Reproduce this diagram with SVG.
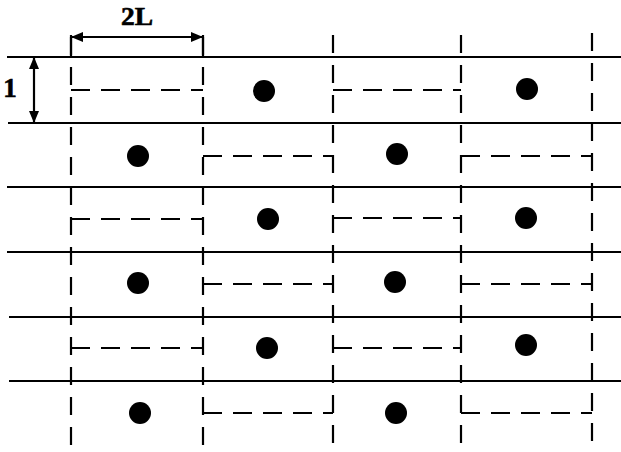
<svg xmlns="http://www.w3.org/2000/svg" width="621" height="452" viewBox="0 0 621 452">
<style>
.solid{stroke:#000;stroke-width:2.2;fill:none}
.vd{stroke:#000;stroke-width:2.2;fill:none;stroke-dasharray:18 12}
.hd{stroke:#000;stroke-width:2.2;fill:none;stroke-dasharray:19 11}
.dot{fill:#000}
.lbl{font-family:"Liberation Serif",serif;font-weight:bold;fill:#000;stroke:#000;stroke-width:0.6}
</style>
<defs>
<marker id="ah" viewBox="0 0 12 10" refX="11" refY="5" markerWidth="12" markerHeight="10" markerUnits="userSpaceOnUse" orient="auto-start-reverse">
<path d="M0,0 L12,5 L0,10 Z" fill="#000"/>
</marker>
</defs>
<rect width="621" height="452" fill="#fff"/>
<g id="grid">
<line class="solid" x1="7" y1="57" x2="621" y2="57"/>
<line class="solid" x1="8" y1="123" x2="621" y2="123"/>
<line class="solid" x1="7" y1="187" x2="621" y2="187"/>
<line class="solid" x1="7" y1="252" x2="621" y2="252"/>
<line class="solid" x1="9" y1="317" x2="621" y2="317"/>
<line class="solid" x1="9" y1="381" x2="621" y2="381"/>
<line class="vd" x1="71" y1="37" x2="71" y2="445"/>
<line class="vd" x1="203" y1="37" x2="203" y2="445"/>
<line class="vd" x1="333" y1="35" x2="333" y2="445"/>
<line class="vd" x1="461" y1="35" x2="461" y2="445"/>
<line class="vd" x1="592" y1="33" x2="592" y2="445"/>
</g>
<g id="dims">
<line class="solid" x1="71" y1="35" x2="71" y2="57"/>
<line class="solid" x1="203" y1="35" x2="203" y2="57"/>
<line class="solid" x1="72" y1="37" x2="202" y2="37" marker-start="url(#ah)" marker-end="url(#ah)"/>
<line class="solid" x1="34" y1="58" x2="34" y2="122" marker-start="url(#ah)" marker-end="url(#ah)"/>
<text class="lbl" x="137" y="25" font-size="25" text-anchor="middle" textLength="32" lengthAdjust="spacingAndGlyphs">2L</text>
<text class="lbl" x="10" y="97" font-size="27" text-anchor="middle">1</text>
</g>
<g id="dashes">
<line class="hd" x1="71" y1="90" x2="203" y2="90"/>
<line class="hd" x1="333" y1="90" x2="461" y2="90"/>
<line class="hd" x1="203" y1="156" x2="333" y2="156"/>
<line class="hd" x1="461" y1="156" x2="592" y2="156"/>
<line class="hd" x1="71" y1="219" x2="203" y2="219"/>
<line class="hd" x1="333" y1="218" x2="461" y2="218"/>
<line class="hd" x1="203" y1="284" x2="333" y2="284"/>
<line class="hd" x1="461" y1="284" x2="592" y2="284"/>
<line class="hd" x1="71" y1="348" x2="203" y2="348"/>
<line class="hd" x1="333" y1="348" x2="461" y2="348"/>
<line class="hd" x1="203" y1="413" x2="333" y2="413"/>
<line class="hd" x1="461" y1="413" x2="592" y2="413"/>
</g>
<g id="dots">
<circle class="dot" cx="264" cy="91" r="11"/>
<circle class="dot" cx="527" cy="89" r="11"/>
<circle class="dot" cx="138" cy="156" r="11"/>
<circle class="dot" cx="397" cy="154" r="11"/>
<circle class="dot" cx="268" cy="219" r="11"/>
<circle class="dot" cx="526" cy="218" r="11"/>
<circle class="dot" cx="138" cy="283" r="11"/>
<circle class="dot" cx="395" cy="282" r="11"/>
<circle class="dot" cx="267" cy="348" r="11"/>
<circle class="dot" cx="526" cy="345" r="11"/>
<circle class="dot" cx="140" cy="413" r="11"/>
<circle class="dot" cx="396" cy="413" r="11"/>
</g>
</svg>
